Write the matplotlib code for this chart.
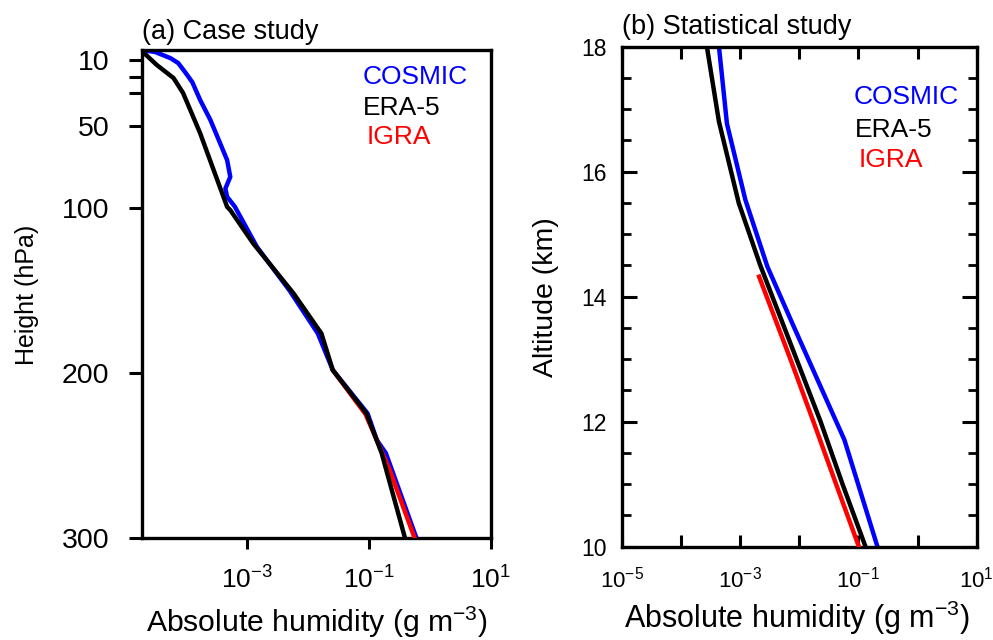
import matplotlib
matplotlib.use("Agg")
import matplotlib.pyplot as plt
from matplotlib.ticker import NullLocator, FixedLocator, MultipleLocator

plt.rcParams['font.family'] = ['Liberation Sans', 'DejaVu Sans']
plt.rcParams['mathtext.fontset'] = 'custom'
plt.rcParams['mathtext.rm'] = 'Liberation Sans'
plt.rcParams['mathtext.it'] = 'Liberation Sans:italic'
plt.rcParams['mathtext.bf'] = 'Liberation Sans:bold'

# (a) case study, pressure levels (hPa) and absolute humidity (g m-3)
p_cosmic = [4.0, 5.1, 8.8, 11.8, 17.3, 23.4, 34.3, 46.4, 60.4, 70.7, 80.9, 88.0,
            93.0, 99.0, 123.4, 150.0, 176.0, 198.2, 224.5, 240.7, 248.7, 300.0]
ah_cosmic = [1.9e-5, 3.1e-5, 5.5e-5, 7.4e-5, 9.6e-5, 1.26e-4, 1.7e-4, 2.5e-4, 3.6e-4,
             4.7e-4, 5.3e-4, 4.4e-4, 4.7e-4, 6.3e-4, 1.45e-3, 5.0e-3, 1.45e-2, 2.55e-2,
             9.5e-2, 0.135, 0.19, 0.60]
p_era5 = [5.5, 13.0, 20.9, 30.0, 54.5, 99.1, 101.1, 121.3, 151.7, 176.0, 198.2,
          224.5, 248.7, 300.0]
ah_era5 = [2.0e-5, 3.3e-5, 6.2e-5, 8.9e-5, 1.7e-4, 4.7e-4, 5.3e-4, 1.26e-3, 5.8e-3,
           1.66e-2, 2.55e-2, 9.1e-2, 0.162, 0.39]
p_igra = [198.2, 225.0, 259.0, 300.0]
ah_igra = [2.55e-2, 8.8e-2, 0.22, 0.56]

# (b) statistical study, altitude (km) and absolute humidity (g m-3)
z_cosmic = [18.0, 16.77, 15.55, 14.48, 13.52, 12.56, 11.71, 10.96, 10.0]
ahz_cosmic = [4.4e-4, 6.0e-4, 1.23e-3, 2.9e-3, 8.1e-3, 2.3e-2, 5.8e-2, 0.102, 0.21]
z_era5 = [18.0, 16.8, 15.5, 14.5, 13.3, 12.0, 11.0, 10.0]
ahz_era5 = [2.75e-4, 4.4e-4, 9.5e-4, 2.2e-3, 6.8e-3, 2.3e-2, 5.4e-2, 0.132]
z_igra = [14.32, 13.0, 12.0, 11.0, 10.0]
ahz_igra = [2.1e-3, 7.1e-3, 1.74e-2, 4.2e-2, 0.102]

names = ["COSMIC", "ERA-5", "IGRA"]
colors = ["#0000ff", "black", "#ff0000"]

fig = plt.figure(figsize=(9.93, 6.4), dpi=100)
ax1 = fig.add_axes([0.1427, 0.1598, 0.3515, 0.7628])
ax2 = fig.add_axes([0.6261, 0.1458, 0.3575, 0.78125])

lw = 3.2
ax1.plot(ah_cosmic, p_cosmic, color=colors[0], lw=lw, zorder=2)
ax1.plot(ah_igra, p_igra, color=colors[2], lw=lw, zorder=3)
ax1.plot(ah_era5, p_era5, color=colors[1], lw=lw, zorder=4)

ax2.plot(ahz_cosmic, z_cosmic, color=colors[0], lw=lw, zorder=2)
ax2.plot(ahz_igra, z_igra, color=colors[2], lw=lw, zorder=3)
ax2.plot(ahz_era5, z_era5, color=colors[1], lw=lw, zorder=4)

for ax in (ax1, ax2):
    for s in ax.spines.values():
        s.set_linewidth(2.4)

# left panel axes
ax1.set_xscale('log')
ax1.set_xlim(10 ** -4.73, 10)
ax1.set_ylim(300, 3.6)
ax1.set_xticks([1e-3, 1e-1, 1e1])
ax1.set_xticklabels([r'$\mathregular{10^{-3}}$', r'$\mathregular{10^{-1}}$', r'$\mathregular{10^{1}}$'])
ax1.xaxis.set_minor_locator(NullLocator())
ax1.set_yticks([10, 50, 100, 200, 300])
ax1.yaxis.set_minor_locator(FixedLocator([20, 30]))
ax1.tick_params(axis='x', which='both', direction='out', length=8, width=2.2,
                labelsize=19, pad=13, top=False)
ax1.tick_params(axis='y', which='both', direction='out', length=9.4, width=2.2,
                labelsize=20.5, pad=14, right=False)
ax1.set_ylabel('Height (hPa)', fontsize=18, va='center')
ax1.yaxis.set_label_coords(-0.328, 0.497)
ax1.set_xlabel(r'Absolute humidity (g m$^{\mathregular{-3}}$)', fontsize=21.7, va='baseline')
ax1.xaxis.set_label_coords(0.502, -0.194)
ax1.text(0.0, 1.036, '(a) Case study', transform=ax1.transAxes, fontsize=19.5,
         ha='left', va='center')
for name, c, tx, ty in zip(names, colors, [0.634, 0.634, 0.645], [0.944, 0.880, 0.821]):
    ax1.text(tx, ty, name, color=c, fontsize=19, transform=ax1.transAxes,
             ha='left', va='center')

# right panel axes
ax2.set_xscale('log')
ax2.set_xlim(1e-5, 10)
ax2.set_ylim(10, 18)
ax2.set_xticks([1e-5, 1e-4, 1e-3, 1e-2, 1e-1, 1e0, 1e1])
ax2.set_xticklabels([r'$\mathregular{10^{-5}}$', '', r'$\mathregular{10^{-3}}$', '',
                     r'$\mathregular{10^{-1}}$', '', r'$\mathregular{10^{1}}$'])
ax2.xaxis.set_minor_locator(NullLocator())
ax2.set_yticks([10, 12, 14, 16, 18])
ax2.yaxis.set_minor_locator(MultipleLocator(0.5))
ax2.tick_params(axis='x', which='both', direction='in', length=8.6, width=2.2,
                labelsize=16, pad=14, top=True)
ax2.tick_params(axis='y', which='major', direction='in', length=10.8, width=2.2,
                labelsize=16.5, pad=11, right=True)
ax2.tick_params(axis='y', which='minor', direction='in', length=6.5, width=2.0,
                right=True)
ax2.set_ylabel('Altitude (km)', fontsize=20.5, va='center')
ax2.yaxis.set_label_coords(-0.212, 0.499)
ax2.set_xlabel(r'Absolute humidity (g m$^{\mathregular{-3}}$)', fontsize=22, va='baseline')
ax2.xaxis.set_label_coords(0.495, -0.163)
ax2.text(0.0, 1.039, '(b) Statistical study', transform=ax2.transAxes, fontsize=19.5,
         ha='left', va='center')
for name, c, tx, ty in zip(names, colors, [0.652, 0.657, 0.668], [0.899, 0.833, 0.773]):
    ax2.text(tx, ty, name, color=c, fontsize=19, transform=ax2.transAxes,
             ha='left', va='center')

fig.savefig('out.png', dpi=100)
